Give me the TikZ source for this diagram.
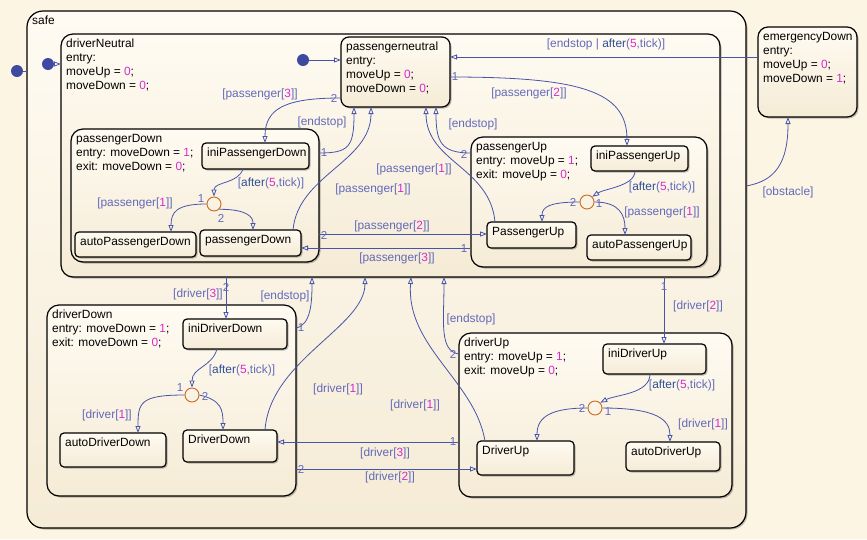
\documentclass[tikz,border=0pt]{standalone}
\usepackage{fontspec}
\setmainfont{Liberation Sans}
\usepackage{tikz}
\usetikzlibrary{arrows.meta, positioning, shadows, calc}
\definecolor{chartbg}{RGB}{253, 245, 228}
\definecolor{statetop}{RGB}{255, 251, 242}
\definecolor{statebottom}{RGB}{245, 235, 214}
\definecolor{transblue}{RGB}{72, 84, 170}
\definecolor{labelblue}{RGB}{98, 106, 186}
\definecolor{afterblue}{RGB}{48, 78, 148}
\definecolor{valuepink}{RGB}{214, 44, 204}
\definecolor{junctionorange}{RGB}{204, 106, 30}
\definecolor{dotblue}{RGB}{62, 74, 160}

\newcommand{\val}[1]{\textcolor{valuepink}{#1}}
\newcommand{\aft}{\textcolor{afterblue}{after}}

% box node plus its text node, top-left at (x,y)
\newcommand{\chartstate}[7][]{%
  \node[statebox, minimum width=#5, minimum height=#6, #1] (#2) at (#3,#4) {};
  \node[statetext] (#2-txt) at ($(#2.north west)+(5,5)$) {#7};}

\tikzset{
  statebox/.style={draw=black, line width=1.2pt, rounded corners=4pt, anchor=north west,
    inner sep=0pt, outer sep=0pt, top color=statetop, bottom color=statebottom,
    drop shadow={shadow xshift=1.5pt, shadow yshift=-1.5pt, opacity=0.25, fill=black}},
  superstate/.style={rounded corners=12pt},
  statetext/.style={anchor=north west, inner sep=0pt, align=left, font=\fontsize{11.9}{14}\selectfont},
  trans/.style={draw=transblue, line width=0.8pt, -{Triangle[open, length=7pt, width=5pt]}},
  trlabel/.style={text=labelblue, font=\fontsize{11.9}{14}\selectfont, inner sep=0pt},
  trorder/.style={text=labelblue, font=\fontsize{11.5}{13}\selectfont, inner sep=0.5pt},
  junction/.style={circle, draw=junctionorange, line width=0.9pt, minimum size=14pt, inner sep=0pt},
  defaultdot/.style={circle, fill=dotblue, minimum size=12pt, inner sep=0pt},
}

\begin{document}
\begin{tikzpicture}[x=1pt, y=-1pt]
    % Background
    \fill[chartbg] (0,0) rectangle (867,539);
    \useasboundingbox (0,0) rectangle (867,539);

    % Superstates
    \chartstate[rounded corners=16pt]{safe}{27}{11}{719}{517}{safe}
    \chartstate[superstate]{drvN}{61}{34}{659}{243}{driverNeutral\\entry:\\moveUp = \val{0};\\moveDown = \val{0};}
    \chartstate[rounded corners=10pt]{emDown}{758}{27}{99}{90}{emergencyDown\\entry:\\moveUp = \val{0};\\moveDown = \val{1};}
    \chartstate[rounded corners=8pt]{pasN}{341}{37}{109}{70}{passengerneutral\\entry:\\moveUp = \val{0};\\moveDown = \val{0};}

    % passenger states
    \chartstate[superstate]{pasD}{71}{129}{248}{133}{passengerDown\\entry: moveDown = \val{1};\\exit: moveDown = \val{0};}
    \chartstate{iniPD}{202}{143}{107}{26}{iniPassengerDown}
    \chartstate{autoPD}{75}{232}{121}{25}{autoPassengerDown}
    \chartstate{pasDn}{200}{230}{101}{26}{passengerDown}
    \chartstate[superstate]{pasU}{471}{137}{236}{130}{passengerUp\\entry: moveUp = \val{1};\\exit: moveUp = \val{0};}
    \chartstate{iniPU}{591}{146}{97}{25}{iniPassengerUp}
    \chartstate{pasUp}{487}{222}{89}{26}{PassengerUp}
    \chartstate{autoPU}{587}{235}{104}{25}{autoPassengerUp}

    % driver states
    \chartstate[superstate]{drvD}{47}{305}{249}{191}{driverDown\\entry: moveDown = \val{1};\\exit: moveDown = \val{0};}
    \chartstate{iniDD}{183}{319}{104}{30}{iniDriverDown}
    \chartstate{autoDD}{60}{433}{106}{34}{autoDriverDown}
    \chartstate{drvDn}{183}{430}{94}{32}{DriverDown}
    \chartstate[superstate]{drvU}{459}{333}{273}{164}{driverUp\\entry: moveUp = \val{1};\\exit: moveUp = \val{0};}
    \chartstate{iniDU}{603}{344}{103}{30}{iniDriverUp}
    \chartstate{drvUp}{477}{441}{97}{34}{DriverUp}
    \chartstate{autoDU}{626}{442}{94}{29}{autoDriverUp}

    % Junctions and default transitions
    \node[junction] (jPD) at (214,204) {};
    \node[junction] (jPU) at (587,202) {};
    \node[junction] (jDD) at (192,395) {};
    \node[junction] (jDU) at (595,408) {};
    \node[defaultdot] (dSafe) at (17,71) {};
    \node[defaultdot] (dDrv) at (48,64) {};
    \node[defaultdot] (dPas) at (303,60) {};
    \draw[trans, -] (dSafe) -- ($(safe.north west)+(0,60)$);
    \draw[trans] (dDrv) -- ($(drvN.north west)+(0,30)$);
    \draw[trans] (dPas) -- ($(pasN.north west)+(0,23)$);

    % Transitions: emergency
    \draw[trans] ($(emDown.north west)+(0,30)$) -- ($(pasN.north east)+(0,20)$);
    \draw[trans] ($(safe.north east)+(0,175)$) .. controls +(30,-5) and +(0,45) .. ($(emDown.south west)+(30,0)$);

    % Transitions: passenger
    \draw[trans] ($(pasN.north west)+(0,61)$) .. controls +(-55,0) and +(0,-35) .. ($(iniPD.north west)+(63,0)$);
    \draw[trans] ($(pasD.north east)+(0,24)$) .. controls +(30,0) and +(0,40) .. ($(pasN.south west)+(13,0)$);
    \draw[trans] ($(pasDn.north east)+(-8,0)$) .. controls +(5,-55) and +(0,55) .. ($(pasN.south west)+(30,0)$);
    \draw[trans] ($(pasN.north east)+(0,40)$) .. controls +(130,0) and +(0,-55) .. ($(iniPU.north west)+(36,0)$);
    \draw[trans] ($(pasU.north west)+(0,16)$) .. controls +(-30,0) and +(0,35) .. ($(pasN.south east)+(-14,0)$);
    \draw[trans] ($(pasUp.north west)+(8,0)$) .. controls +(-5,-55) and +(0,55) .. ($(pasN.south east)+(-24,0)$);
    \draw[trans] ($(pasD.north east)+(0,105)$) -- ($(pasUp.north west)+(0,12)$);
    \draw[trans] ($(pasU.north west)+(0,111)$) -- ($(pasDn.north east)+(0,18)$);
    \draw[trans] ($(iniPD.south west)+(41,0)$) .. controls +(-5,15) and +(0,-15) .. (jPD.north);
    \draw[trans] (jPD.west) .. controls +(-30,0) and +(0,-20) .. ($(autoPD.north west)+(96,0)$);
    \draw[trans] (jPD.south east) .. controls +(30,0) and +(0,-12) .. ($(pasDn.north west)+(53,0)$);
    \draw[trans] ($(iniPU.south west)+(44,0)$) .. controls +(0,15) and +(12,-8) .. (jPU.north east);
    \draw[trans] (jPU.west) .. controls +(-30,0) and +(0,-15) .. ($(pasUp.north west)+(55,0)$);
    \draw[trans] (jPU.east) .. controls +(25,0) and +(0,-20) .. ($(autoPU.north west)+(38,0)$);

    % Transitions: driver
    \draw[trans] ($(drvN.south west)+(165,0)$) -- ($(iniDD.north west)+(43,0)$);
    \draw[trans] ($(drvD.north east)+(0,23)$) .. controls +(15,-3) and +(0,25) .. ($(drvN.south west)+(251,0)$);
    \draw[trans] ($(drvDn.north west)+(82,0)$) .. controls +(5,-70) and +(0,50) .. ($(drvN.south west)+(304,0)$);
    \draw[trans] ($(drvUp.north west)+(8,0)$) .. controls +(-10,-60) and +(-5,70) .. ($(drvN.south west)+(350,0)$);
    \draw[trans] ($(drvU.north west)+(0,21)$) .. controls +(-20,-3) and +(0,45) .. ($(drvN.south west)+(383,0)$);
    \draw[trans] ($(drvN.south west)+(603,0)$) -- ($(iniDU.north west)+(61,0)$);
    \draw[trans] ($(drvU.north west)+(0,109)$) -- ($(drvDn.north east)+(0,12)$);
    \draw[trans] ($(drvD.north east)+(0,164)$) -- ($(drvUp.north west)+(0,28)$);
    \draw[trans] ($(iniDD.south west)+(34,0)$) .. controls +(-5,18) and +(0,-20) .. (jDD.north);
    \draw[trans] (jDD.west) .. controls +(-45,0) and +(0,-30) .. ($(autoDD.north west)+(78,0)$);
    \draw[trans] (jDD.east) .. controls +(22,5) and +(0,-20) .. ($(drvDn.north west)+(40,0)$);
    \draw[trans] ($(iniDU.south west)+(47,0)$) .. controls +(0,20) and +(15,-8) .. (jDU.north east);
    \draw[trans] (jDU.west) .. controls +(-35,0) and +(0,-25) .. ($(drvUp.north west)+(60,0)$);
    \draw[trans] (jDU.east) .. controls +(55,0) and +(0,-22) .. ($(autoDU.north west)+(44,0)$);

    % Labels
    \node[trlabel] (lEmN) at (606,44) {[endstop | \aft(\val{5},tick)]};
    \node[trlabel] (lObst) at (788,192) {[obstacle]};
    \node[trlabel] (lPas3a) at (260,94) {[passenger[\val{3}]]};
    \node[trlabel] (lEndPD) at (322,122) {[endstop]};
    \node[trlabel] (lPas1a) at (373,189) {[passenger[\val{1}]]};
    \node[trlabel] (lPas1b) at (414,169) {[passenger[\val{1}]]};
    \node[trlabel] (lPas2a) at (529,93) {[passenger[\val{2}]]};
    \node[trlabel] (lEndPU) at (473,124) {[endstop]};
    \node[trlabel] (lPas2b) at (392,226) {[passenger[\val{2}]]};
    \node[trlabel] (lPas3b) at (397,258) {[passenger[\val{3}]]};
    \node[trlabel] (lAftPD) at (271,183) {[\aft(\val{5},tick)]};
    \node[trlabel] (lPas1c) at (135,203) {[passenger[\val{1}]]};
    \node[trlabel] (lAftPU) at (662,187) {[\aft(\val{5},tick)]};
    \node[trlabel] (lPas1d) at (662,212) {[passenger[\val{1}]]};
    \node[trlabel] (lDrv3a) at (198,294) {[driver[\val{3}]]};
    \node[trlabel] (lEndDD) at (285,296) {[endstop]};
    \node[trlabel] (lAftDD) at (242,370) {[\aft(\val{5},tick)]};
    \node[trlabel] (lDrv1a) at (107,415) {[driver[\val{1}]]};
    \node[trlabel] (lDrv1b) at (338,389) {[driver[\val{1}]]};
    \node[trlabel] (lDrv1c) at (415,405) {[driver[\val{1}]]};
    \node[trlabel] (lEndDU) at (471,319) {[endstop]};
    \node[trlabel] (lDrv2a) at (698,306) {[driver[\val{2}]]};
    \node[trlabel] (lDrv3b) at (385,453) {[driver[\val{3}]]};
    \node[trlabel] (lDrv2b) at (390,477) {[driver[\val{2}]]};
    \node[trlabel] (lAftDU) at (682,385) {[\aft(\val{5},tick)]};
    \node[trlabel] (lDrv1d) at (703,424) {[driver[\val{1}]]};

    % Execution order numbers
    \node[trorder] (oPN2) at (334,98) {2};
    \node[trorder] (oPD1) at (324,153) {1};
    \node[trorder] (oPN1) at (455,77) {1};
    \node[trorder] (oPU2) at (464,154) {2};
    \node[trorder] (oPD2) at (324,235) {2};
    \node[trorder] (oPU1) at (464,249) {1};
    \node[trorder] (oJPD1) at (201,199) {1};
    \node[trorder] (oJPD2) at (221,218) {2};
    \node[trorder] (oJPU2) at (573,202) {2};
    \node[trorder] (oJPU1) at (599,204) {1};
    \node[trorder] (oDN2) at (226,287) {2};
    \node[trorder] (oDD1) at (301,328) {1};
    \node[trorder] (oDU2) at (453,354) {2};
    \node[trorder] (oDN1) at (664,287) {1};
    \node[trorder] (oDU1) at (453,442) {1};
    \node[trorder] (oDD2) at (301,469) {2};
    \node[trorder] (oJDD1) at (180,388) {1};
    \node[trorder] (oJDD2) at (205,396) {2};
    \node[trorder] (oJDU2) at (582,408) {2};
    \node[trorder] (oJDU1) at (608,412) {1};
\end{tikzpicture}
\end{document}
